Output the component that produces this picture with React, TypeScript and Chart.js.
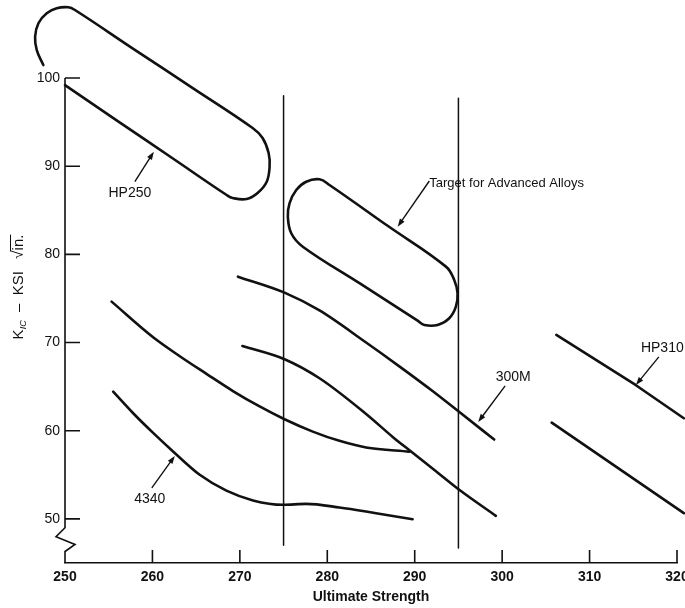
import { useEffect, useRef } from "react";
import { Chart, registerables } from "chart.js";

Chart.register(...registerables);

// ---- axis ticks ----
const xTickValues = [250, 260, 270, 280, 290, 300, 310, 320];
const yTickValues = [50, 60, 70, 80, 90, 100];
const xTitle = "Ultimate Strength";

// ---- bands (closed / open loops) ----
const hp250Band = [
  { x: 247.52, y: 101.47 }, { x: 246.77, y: 103.17 }, { x: 246.58, y: 104.68 },
  { x: 246.96, y: 106.21 }, { x: 247.91, y: 107.33 }, { x: 249.05, y: 107.9 },
  { x: 250.38, y: 108.02 }, { x: 251.14, y: 107.71 }, { x: 257.9, y: 103.25 },
  { x: 264.7, y: 98.8 }, { x: 271.46, y: 94.33 }, { x: 272.6, y: 93.2 },
  { x: 273.29, y: 91.5 }, { x: 273.4, y: 89.91 }, { x: 273.06, y: 88.21 },
  { x: 272.03, y: 86.96 }, { x: 270.78, y: 86.28 }, { x: 269.18, y: 86.39 },
  { x: 268.49, y: 86.73 }, { x: 262.3, y: 90.9 }, { x: 256.2, y: 95.0 },
  { x: 250.0, y: 99.2 },
];

const targetBand = [
  { x: 283.77, y: 76.68 }, { x: 277.2, y: 80.87 }, { x: 275.88, y: 82.39 },
  { x: 275.49, y: 84.27 }, { x: 275.68, y: 85.79 }, { x: 276.45, y: 87.3 },
  { x: 277.59, y: 88.24 }, { x: 279.11, y: 88.51 }, { x: 280.25, y: 87.87 },
  { x: 286.9, y: 83.24 }, { x: 293.57, y: 78.61 }, { x: 294.52, y: 77.1 },
  { x: 294.9, y: 75.59 }, { x: 294.71, y: 74.07 }, { x: 293.95, y: 72.76 },
  { x: 292.61, y: 72.0 }, { x: 291.1, y: 72.0 }, { x: 290.33, y: 72.48 },
  { x: 283.77, y: 76.68 },
];

// ---- curves ----
const curveUpper300M = [
  { x: 269.78, y: 77.47 }, { x: 275.11, y: 75.66 }, { x: 279.11, y: 73.64 },
  { x: 284.44, y: 70.0 }, { x: 288.24, y: 67.3 },
  { x: 292.04, y: 64.5 }, { x: 295.0, y: 62.2 }, { x: 299.09, y: 59.0 },
];

const curveLower300M = [
  { x: 270.29, y: 69.61 }, { x: 275.11, y: 68.11 }, { x: 279.11, y: 65.95 },
  { x: 284.44, y: 61.9 }, { x: 287.48, y: 59.3 },
  { x: 289.58, y: 57.64 }, { x: 292.43, y: 55.4 }, { x: 295.09, y: 53.3 },
  { x: 299.28, y: 50.35 },
];

const curveUpper4340 = [
  { x: 255.33, y: 74.64 }, { x: 260.08, y: 70.6 },
  { x: 263.13, y: 68.45 }, { x: 266.18, y: 66.45 }, { x: 269.21, y: 64.5 },
  { x: 272.26, y: 62.75 }, { x: 275.11, y: 61.3 }, { x: 278.34, y: 59.9 },
  { x: 281.39, y: 58.85 }, { x: 284.44, y: 58.1 }, { x: 289.38, y: 57.63 },
];

const curve4340 = [
  { x: 255.51, y: 64.43 }, { x: 257.8, y: 61.98 }, { x: 260.08, y: 59.75 },
  { x: 262.36, y: 57.65 }, { x: 265.41, y: 55.0 }, { x: 268.46, y: 53.2 },
  { x: 271.5, y: 52.1 }, { x: 274.92, y: 51.6 }, { x: 277.59, y: 51.7 },
  { x: 281.39, y: 51.3 }, { x: 285.58, y: 50.65 }, { x: 289.76, y: 49.97 },
];

const hp310Upper = [{ x: 306.2, y: 70.86 }, { x: 315.26, y: 65.19 }, { x: 320.78, y: 61.42 }];
const hp310Lower = [{ x: 305.67, y: 60.92 }, { x: 320.78, y: 50.65 }];

const line275 = [{ x: 275, y: 98 }, { x: 275, y: 47 }];
const line295 = [{ x: 295, y: 97.7 }, { x: 295, y: 46.7 }];

// ---- labels with arrows (data coordinates) ----
const labelTexts = ["HP250", "Target for Advanced Alloys", "300M", "HP310", "4340"];
const labelAnchors = [
  { x: 257.42, y: 86.96, align: "center" },
  { x: 291.67, y: 88.1, align: "left" },
  { x: 301.26, y: 66.1, align: "center" },
  { x: 315.87, y: 69.39, align: "left" },
  { x: 259.7, y: 52.27, align: "center" },
];
const arrowFrom = [
  { x: 257.99, y: 88.24 }, { x: 291.67, y: 88.32 }, { x: 300.34, y: 65.08 },
  { x: 317.92, y: 68.37 }, { x: 259.93, y: 53.51 },
];
const arrowTo = [
  { x: 260.16, y: 91.64 }, { x: 288.05, y: 83.14 }, { x: 297.26, y: 61.0 },
  { x: 315.3, y: 65.19 }, { x: 262.56, y: 57.14 },
];

const INK = "#111";
const FONT = "'Liberation Sans', Arial, Helvetica, sans-serif";

function curveDs(data: { x: number; y: number }[], width = 2.6, tension = 0.4, monotone = false) {
  return {
    data,
    borderColor: INK,
    borderWidth: width,
    pointRadius: 0,
    pointHoverRadius: 0,
    fill: false,
    tension,
    cubicInterpolationMode: monotone ? "monotone" : "default",
    clip: false as any,
    borderCapStyle: "round" as const,
    borderJoinStyle: "round" as const,
  };
}

const decorPlugin = {
  id: "decor",
  afterDatasetsDraw(chart: any) {
    const { ctx, chartArea } = chart;
    const xs = chart.scales.x;
    const ys = chart.scales.y;
    const ax = chartArea.left;
    ctx.save();
    ctx.strokeStyle = INK;
    ctx.fillStyle = INK;
    ctx.lineWidth = 1.6;
    ctx.lineCap = "butt";

    // y axis line with break zigzag
    const pTop = ys.getPixelForValue(100);
    const pB1 = ys.getPixelForValue(49.0);
    const pB2 = ys.getPixelForValue(46.3);
    const h = pB2 - pB1;
    ctx.beginPath();
    ctx.moveTo(ax, pTop);
    ctx.lineTo(ax, pB1);
    ctx.lineTo(ax - 9, pB1 + h * 0.38);
    ctx.lineTo(ax + 10, pB1 + h * 0.7);
    ctx.lineTo(ax, pB2);
    ctx.lineTo(ax, chartArea.bottom);
    ctx.stroke();

    // inward ticks
    ctx.beginPath();
    yTickValues.forEach((v) => {
      const py = ys.getPixelForValue(v);
      ctx.moveTo(ax, py);
      ctx.lineTo(ax + 15, py);
    });
    xTickValues.forEach((v, i) => {
      if (i === 0) return;
      const px = xs.getPixelForValue(v);
      ctx.moveTo(px, chartArea.bottom);
      ctx.lineTo(px, chartArea.bottom - 13);
    });
    ctx.stroke();

    // annotations
    ctx.lineWidth = 1.4;
    labelTexts.forEach((t, i) => {
      const a = labelAnchors[i];
      ctx.font = (i === 1 ? "13px " : "14px ") + FONT;
      ctx.textAlign = a.align as CanvasTextAlign;
      ctx.textBaseline = "middle";
      ctx.fillText(t, xs.getPixelForValue(a.x), ys.getPixelForValue(a.y));
      const x1 = xs.getPixelForValue(arrowFrom[i].x);
      const y1 = ys.getPixelForValue(arrowFrom[i].y);
      const x2 = xs.getPixelForValue(arrowTo[i].x);
      const y2 = ys.getPixelForValue(arrowTo[i].y);
      const ang = Math.atan2(y2 - y1, x2 - x1);
      ctx.beginPath();
      ctx.moveTo(x1, y1);
      ctx.lineTo(x2 - Math.cos(ang) * 4, y2 - Math.sin(ang) * 4);
      ctx.stroke();
      ctx.beginPath();
      ctx.moveTo(x2, y2);
      ctx.lineTo(x2 - Math.cos(ang) * 8 + Math.sin(ang) * 2.8, y2 - Math.sin(ang) * 8 - Math.cos(ang) * 2.8);
      ctx.lineTo(x2 - Math.cos(ang) * 8 - Math.sin(ang) * 2.8, y2 - Math.sin(ang) * 8 + Math.cos(ang) * 2.8);
      ctx.closePath();
      ctx.fill();
    });

    // y axis title: K_IC – KSI √in.
    const cy = ys.getPixelForValue(76.3);
    ctx.translate(18, cy);
    ctx.rotate(-Math.PI / 2);
    ctx.textAlign = "left";
    ctx.textBaseline = "alphabetic";
    const parts = [
      { t: "K", f: "15px " + FONT, dy: 0 },
      { t: "IC", f: "italic 9px " + FONT, dy: 3 },
      { t: "  –  KSI   ", f: "15px " + FONT, dy: 0 },
      { t: "√", f: "15px " + FONT, dy: 0 },
      { t: "in.", f: "15px " + FONT, dy: 0 },
    ];
    let total = 0;
    const widths = parts.map((p) => {
      ctx.font = p.f;
      const w = ctx.measureText(p.t).width;
      total += w;
      return w;
    });
    let x = -total / 2;
    const base = 5;
    parts.forEach((p, i) => {
      ctx.font = p.f;
      ctx.fillText(p.t, x, base + p.dy);
      if (i === 4) {
        ctx.lineWidth = 1;
        ctx.beginPath();
        ctx.moveTo(x - 1, base - 12.5);
        ctx.lineTo(x + widths[i], base - 12.5);
        ctx.stroke();
      }
      x += widths[i];
    });
    ctx.restore();
  },
};

export default function App() {
  const ref = useRef<HTMLCanvasElement | null>(null);
  useEffect(() => {
    if (!ref.current) return;
    const chart = new Chart(ref.current, {
      type: "line",
      data: {
        datasets: [
          curveDs(hp250Band),
          curveDs(targetBand),
          curveDs(curveUpper300M, 2.6, 0.4, true),
          curveDs(curveLower300M, 2.6, 0.4, true),
          curveDs(curveUpper4340, 2.6, 0.4, true),
          curveDs(curve4340, 2.6, 0.4, true),
          curveDs(hp310Upper, 2.6, 0),
          curveDs(hp310Lower, 2.6, 0),
          curveDs(line275, 1.5, 0),
          curveDs(line295, 1.5, 0),
        ] as any,
      },
      options: {
        animation: false,
        responsive: true,
        maintainAspectRatio: false,
        events: [],
        layout: { padding: { top: 78, right: 8, left: 0, bottom: 0 } },
        plugins: {
          legend: { display: false },
          tooltip: { enabled: false },
          title: { display: false },
        },
        scales: {
          x: {
            type: "linear",
            min: 250,
            max: 320,
            afterBuildTicks: (s: any) => {
              s.ticks = xTickValues.map((v) => ({ value: v }));
            },
            afterFit: (s: any) => {
              s.height = 45;
              s.paddingLeft = 0;
              s.paddingRight = 0;
            },
            grid: { display: true, drawOnChartArea: false, drawTicks: false, tickLength: 0 },
            border: { display: true, color: INK, width: 1.6 },
            ticks: {
              padding: 6,
              color: INK,
              maxRotation: 0,
              autoSkip: false,
              font: { family: FONT, size: 14, weight: "bold" },
            },
            title: {
              display: true,
              text: xTitle,
              color: INK,
              padding: { top: 0, bottom: 2 },
              font: { family: FONT, size: 14, weight: "bold" },
            },
          },
          y: {
            type: "linear",
            min: 45,
            max: 100,
            afterBuildTicks: (s: any) => {
              s.ticks = yTickValues.map((v) => ({ value: v }));
            },
            afterFit: (s: any) => {
              s.width = 65;
              s.paddingTop = 0;
              s.paddingBottom = 0;
            },
            grid: { display: true, drawOnChartArea: false, drawTicks: false, tickLength: 0 },
            border: { display: false },
            ticks: {
              padding: 5,
              color: INK,
              autoSkip: false,
              font: { family: FONT, size: 14 },
            },
          },
        },
      },
      plugins: [decorPlugin],
    });
    return () => chart.destroy();
  }, []);

  return (
    <div style={{ position: "fixed", left: 0, top: 0, width: 685, height: 608, background: "#fff" }}>
      <canvas ref={ref} />
    </div>
  );
}
